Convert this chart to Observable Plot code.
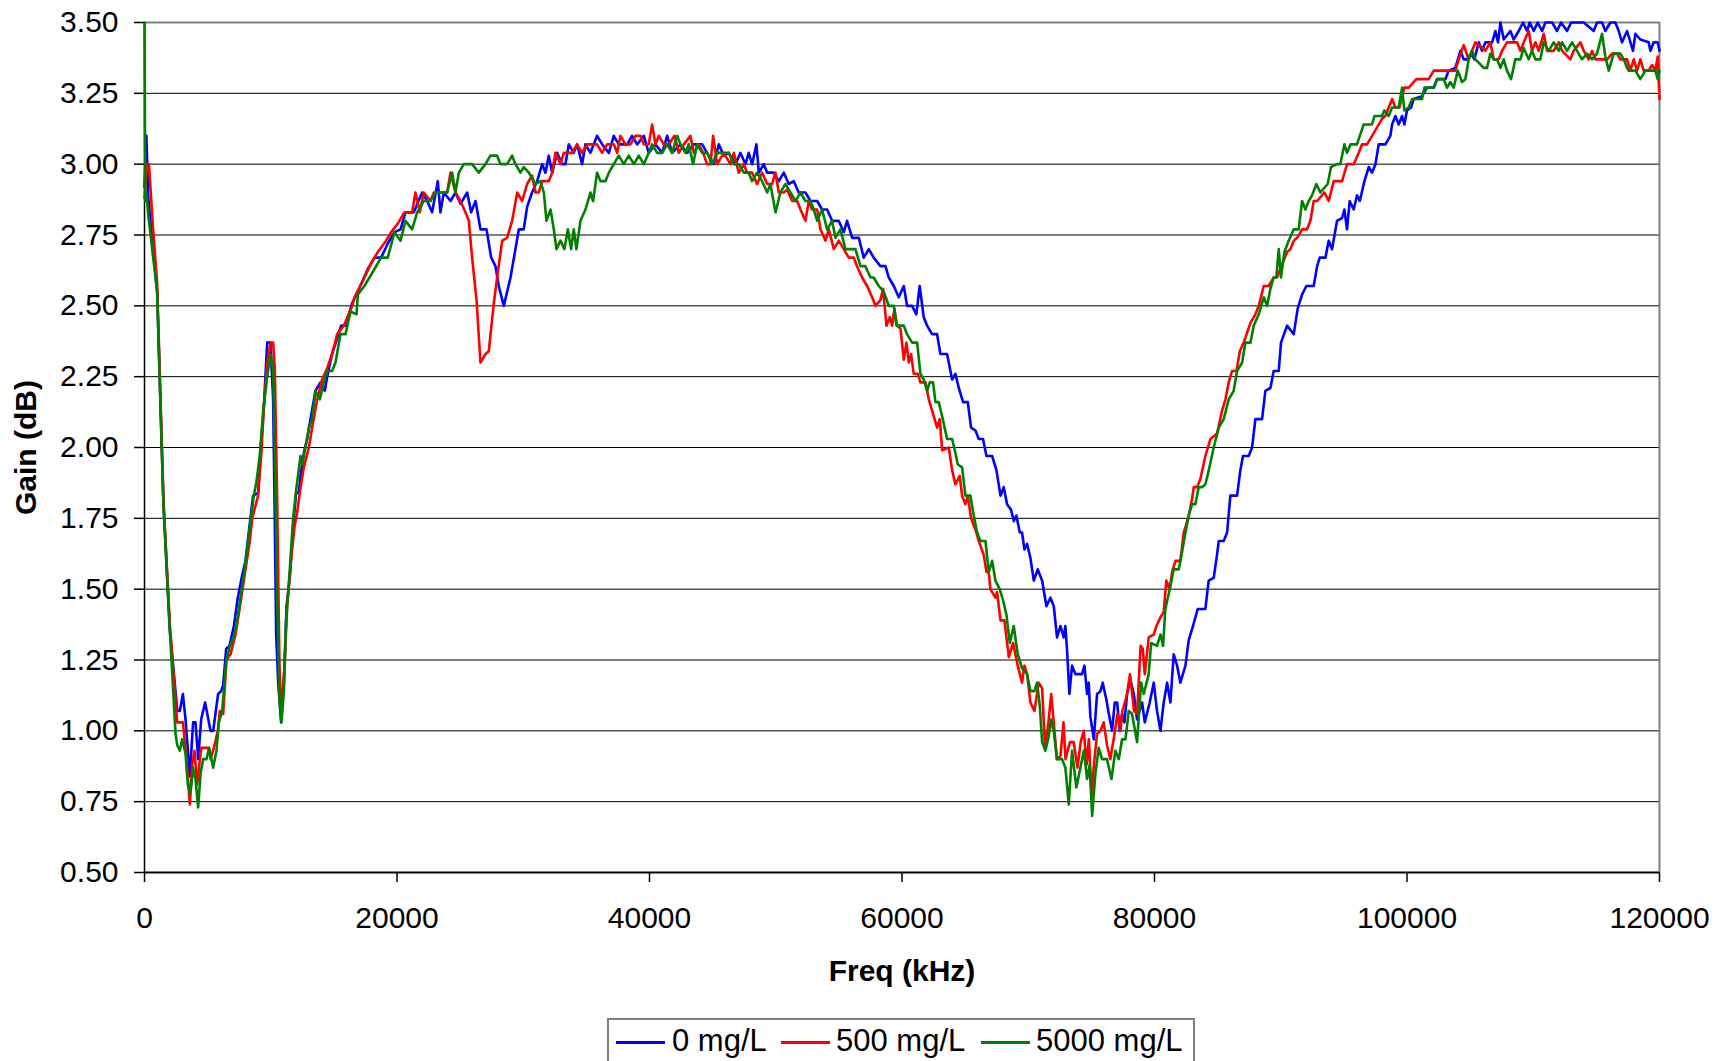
<!DOCTYPE html>
<html><head><meta charset="utf-8">
<script src="https://cdn.jsdelivr.net/npm/d3@7"></script>
<script src="https://cdn.jsdelivr.net/npm/@observablehq/plot@0.6"></script>
<style>
html,body{margin:0;padding:0;background:#fff;overflow:hidden;}
#wrap{position:relative;width:1719px;height:1061px;}
#legend{position:absolute;left:607px;top:1018px;width:588px;height:60px;border:2px solid #808080;box-sizing:border-box;background:#fff;font-family:"Liberation Sans",Arial,sans-serif;font-size:31px;color:#000;}
.sw{position:absolute;top:21px;width:49px;height:3px;}
.lb{position:absolute;top:4px;white-space:nowrap;line-height:34px;}
</style></head>
<body><div id="wrap"><div id="chart"></div><div id="legend"></div></div>
<script>
// Tick values
const xTicks = [0, 20000, 40000, 60000, 80000, 100000, 120000];
const yTicks = [0.5, 0.75, 1.0, 1.25, 1.5, 1.75, 2.0, 2.25, 2.5, 2.75, 3.0, 3.25, 3.5];
const seriesNames = ["0 mg/L", "500 mg/L", "5000 mg/L"];
const seriesColors = ["#0000ff", "#ff0000", "#008000"];

// [Freq (kHz), Gain (dB)]
const blue = [[0,2.92],[150,3.10],[300,2.88],[1000,2.55],[1500,1.80],[2000,1.36],[2600,1.07],[2800,1.07],[3040,1.13],[3250,1.04],[3590,0.84],[3850,1.03],[4040,1.03],[4250,0.90],[4490,1.04],[4800,1.10],[5230,1.00],[5440,1.00],[5830,1.13],[6070,1.14],[6230,1.16],[6470,1.29],[6730,1.30],[7080,1.37],[7390,1.47],[7740,1.55],[8000,1.60],[8180,1.67],[8600,1.83],[9000,1.84],[9190,1.99],[9450,2.14],[9720,2.37],[9980,2.37],[10190,2.17],[10300,1.81],[10430,1.34],[10590,1.17],[10820,1.03],[11040,1.17],[11250,1.44],[11510,1.54],[11830,1.75],[12010,1.84],[12220,1.84],[12360,1.90],[12620,1.98],[12880,2.03],[13150,2.10],[13540,2.20],[13940,2.23],[14280,2.20],[14470,2.25],[14860,2.33],[15580,2.43],[15920,2.43],[16450,2.51],[16900,2.55],[17690,2.63],[18220,2.67],[18740,2.67],[19270,2.72],[19800,2.76],[20280,2.77],[20670,2.83],[21330,2.83],[21990,2.90],[22390,2.87],[22780,2.83],[23230,2.94],[23440,2.83],[23710,2.90],[24240,2.87],[24630,2.90],[25030,2.86],[25560,2.90],[25870,2.83],[26220,2.87],[26610,2.77],[27090,2.77],[27460,2.67],[27800,2.64],[28060,2.57],[28460,2.50],[28990,2.60],[29380,2.70],[29650,2.77],[30040,2.77],[30310,2.85],[30700,2.90],[31100,2.94],[31500,3.00],[31760,2.97],[32020,3.03],[32290,2.97],[32680,3.04],[33080,3.00],[33340,3.00],[33610,3.07],[34000,3.04],[34270,3.07],[34660,3.00],[34930,3.07],[35320,3.04],[35850,3.10],[36250,3.07],[36780,3.04],[37170,3.10],[37570,3.07],[38230,3.07],[38620,3.10],[39020,3.07],[39550,3.10],[39940,3.04],[40470,3.07],[41000,3.04],[41400,3.10],[41790,3.04],[42450,3.07],[42980,3.04],[43510,3.07],[44170,3.07],[44560,3.04],[45090,3.00],[45490,3.07],[45880,3.03],[46280,3.04],[46810,3.00],[47200,3.04],[47600,3.00],[47860,3.04],[48130,3.00],[48470,3.07],[48660,2.97],[49050,3.00],[49320,2.97],[49840,2.97],[50240,2.94],[50640,2.97],[51030,2.93],[51430,2.94],[51820,2.90],[52350,2.90],[52750,2.87],[53280,2.87],[53670,2.84],[54070,2.84],[54460,2.80],[54990,2.80],[55390,2.76],[55650,2.80],[56050,2.74],[56580,2.74],[56970,2.67],[57370,2.70],[57760,2.67],[58290,2.64],[58690,2.64],[58950,2.60],[59350,2.57],[59740,2.53],[60140,2.57],[60400,2.50],[60800,2.50],[61140,2.47],[61400,2.57],[61720,2.46],[61990,2.43],[62380,2.40],[62780,2.40],[63040,2.33],[63570,2.33],[63970,2.24],[64230,2.26],[64500,2.21],[64840,2.16],[65210,2.16],[65470,2.07],[65820,2.06],[66080,2.03],[66420,2.03],[66690,1.97],[67140,1.97],[67480,1.92],[67800,1.83],[68060,1.86],[68320,1.80],[68640,1.78],[68850,1.74],[69060,1.76],[69330,1.70],[69510,1.70],[69700,1.64],[69910,1.66],[70170,1.61],[70440,1.53],[70750,1.57],[71100,1.53],[71440,1.44],[71760,1.47],[72020,1.44],[72280,1.33],[72550,1.37],[72810,1.33],[72940,1.37],[73080,1.28],[73260,1.13],[73470,1.23],[73740,1.20],[74260,1.20],[74450,1.23],[74660,1.13],[74790,1.17],[74920,1.05],[75190,0.97],[75450,1.13],[75720,1.14],[75900,1.17],[76190,1.11],[76380,1.06],[76640,1.00],[76850,1.10],[77040,1.10],[77250,1.00],[77430,1.06],[77620,1.03],[77830,1.13],[78090,1.18],[78360,1.13],[78620,1.04],[79020,1.10],[79230,1.03],[79620,1.10],[79940,1.17],[80200,1.07],[80470,1.00],[80730,1.10],[81000,1.17],[81260,1.10],[81520,1.27],[81790,1.23],[82050,1.17],[82450,1.23],[82710,1.32],[83050,1.37],[83420,1.43],[84030,1.43],[84290,1.53],[84690,1.54],[84950,1.62],[85090,1.67],[85480,1.67],[85750,1.70],[86010,1.83],[86540,1.83],[86800,1.92],[87010,1.97],[87460,1.97],[87730,2.00],[87990,2.10],[88520,2.10],[88780,2.20],[89180,2.21],[89440,2.27],[89840,2.27],[90020,2.37],[90500,2.43],[91030,2.40],[91340,2.49],[91690,2.54],[92030,2.57],[92610,2.57],[92880,2.64],[93090,2.67],[93540,2.67],[93800,2.73],[94060,2.70],[94460,2.80],[94860,2.81],[95040,2.84],[95250,2.77],[95460,2.87],[95780,2.84],[96040,2.89],[96260,2.87],[96630,2.94],[96970,2.99],[97230,2.97],[97500,3.00],[97760,3.07],[98290,3.07],[98680,3.10],[98820,3.14],[99080,3.17],[99340,3.14],[99610,3.17],[99790,3.14],[100000,3.19],[100320,3.20],[100530,3.23],[101190,3.24],[101590,3.27],[102120,3.27],[102380,3.30],[103040,3.30],[103300,3.33],[103830,3.34],[104230,3.40],[104490,3.37],[104760,3.37],[105070,3.39],[105340,3.37],[105680,3.43],[105940,3.40],[106210,3.43],[106740,3.43],[107000,3.47],[107210,3.43],[107400,3.50],[107660,3.44],[108190,3.47],[108450,3.44],[108850,3.47],[109190,3.50],[109510,3.47],[109720,3.50],[110040,3.47],[110350,3.50],[110700,3.47],[110960,3.50],[111500,3.50],[111880,3.47],[112200,3.50],[112680,3.47],[113000,3.50],[114000,3.50],[114790,3.47],[115050,3.50],[115450,3.50],[115710,3.47],[116110,3.50],[116500,3.50],[116770,3.47],[117030,3.43],[117430,3.47],[117900,3.40],[118090,3.46],[118480,3.44],[119140,3.43],[119280,3.40],[119540,3.43],[119860,3.43],[120000,3.40]];

const red = [[0,2.88],[200,3.00],[350,3.00],[700,2.76],[1000,2.58],[1500,1.82],[2000,1.38],[2590,1.03],[3040,1.03],[3330,0.90],[3590,0.74],[3780,0.88],[3960,0.93],[4170,0.81],[4490,0.94],[5100,0.94],[5230,0.90],[5490,0.94],[5810,1.00],[5970,1.07],[6230,1.06],[6490,1.25],[6810,1.27],[7210,1.34],[7600,1.45],[8000,1.57],[8340,1.67],[8530,1.75],[9000,1.83],[9270,1.99],[9450,2.14],[9720,2.30],[9980,2.37],[10190,2.37],[10320,2.28],[10510,1.81],[10690,1.23],[10850,1.06],[11090,1.23],[11300,1.44],[11560,1.58],[11880,1.72],[12090,1.77],[12360,1.86],[12620,1.93],[13020,2.00],[13280,2.07],[13680,2.17],[14070,2.24],[14470,2.28],[14860,2.33],[15260,2.40],[15790,2.43],[16450,2.50],[16630,2.53],[17420,2.60],[17950,2.65],[18480,2.69],[19140,2.73],[19540,2.76],[20060,2.79],[20590,2.83],[21200,2.83],[21460,2.90],[21810,2.83],[22120,2.90],[22650,2.87],[22920,2.90],[23970,2.90],[24240,2.97],[24630,2.90],[25030,2.87],[25420,2.83],[25690,2.80],[25950,2.67],[26300,2.52],[26610,2.30],[27010,2.33],[27270,2.34],[27670,2.51],[27930,2.60],[28330,2.73],[28720,2.74],[29120,2.80],[29520,2.90],[29910,2.87],[30310,2.93],[30700,2.96],[30970,2.90],[31230,2.90],[31500,2.94],[32020,2.94],[32290,2.97],[32550,3.04],[32950,3.00],[33210,3.04],[33870,3.04],[34270,3.07],[34660,3.04],[35060,3.07],[35850,3.07],[36250,3.04],[36640,3.07],[37170,3.07],[37440,3.04],[37700,3.10],[38100,3.07],[38490,3.07],[38890,3.10],[39280,3.10],[39550,3.07],[39940,3.07],[40210,3.14],[40470,3.07],[40740,3.10],[41130,3.07],[41530,3.07],[41980,3.10],[42320,3.04],[42720,3.07],[43240,3.10],[43510,3.04],[43900,3.07],[44250,3.04],[44560,3.00],[44830,3.00],[45040,3.10],[45360,3.00],[45880,3.04],[46410,3.00],[46680,3.04],[47070,2.97],[47470,3.00],[47730,2.97],[48130,2.97],[48520,2.93],[48920,2.97],[49320,2.93],[49710,2.93],[49980,2.97],[50240,2.90],[50640,2.90],[50900,2.91],[51300,2.87],[51690,2.87],[51960,2.84],[52350,2.80],[52620,2.87],[52880,2.84],[53280,2.84],[53540,2.77],[53940,2.73],[54200,2.77],[54600,2.70],[54990,2.73],[55390,2.70],[55780,2.67],[56180,2.67],[56440,2.64],[56840,2.60],[57240,2.57],[57630,2.53],[57900,2.50],[58290,2.52],[58500,2.56],[58770,2.43],[59030,2.46],[59220,2.43],[59400,2.49],[59610,2.43],[59880,2.42],[60140,2.31],[60350,2.37],[60540,2.30],[60720,2.33],[60930,2.26],[61250,2.26],[61460,2.23],[61860,2.23],[62120,2.17],[62520,2.11],[62780,2.07],[62990,2.10],[63180,1.99],[63700,2.00],[63970,1.92],[64230,1.87],[64570,1.90],[64760,1.83],[65020,1.80],[65210,1.83],[65470,1.75],[65820,1.71],[66080,1.67],[66480,1.62],[66690,1.56],[66870,1.56],[67000,1.50],[67400,1.47],[67530,1.49],[67800,1.39],[68110,1.39],[68460,1.26],[68800,1.31],[69170,1.23],[69510,1.17],[69700,1.23],[69910,1.20],[70170,1.10],[70490,1.07],[70830,1.17],[71100,1.15],[71330,0.94],[71600,1.03],[71820,1.13],[72040,1.02],[72260,0.90],[72550,0.91],[72790,1.03],[72950,0.90],[73300,0.96],[73600,0.96],[73900,0.87],[74150,0.96],[74400,1.00],[74620,0.88],[74800,0.97],[75010,0.77],[75200,0.88],[75450,0.99],[75720,1.00],[75980,1.03],[76240,0.95],[76500,0.90],[76800,0.98],[77060,1.06],[77300,1.00],[77450,1.07],[77780,1.12],[78060,1.20],[78380,1.07],[78620,1.06],[78900,1.30],[79070,1.29],[79230,1.20],[79540,1.33],[79940,1.34],[80150,1.37],[80470,1.40],[80730,1.42],[80940,1.53],[81210,1.50],[81390,1.56],[81660,1.60],[82050,1.60],[82320,1.70],[82530,1.73],[82710,1.76],[82980,1.82],[83110,1.86],[83370,1.86],[83640,1.89],[84030,1.97],[84430,2.03],[84700,2.04],[84960,2.05],[85350,2.13],[85620,2.17],[85880,2.23],[86140,2.27],[86490,2.27],[86760,2.34],[87070,2.37],[87600,2.44],[87990,2.47],[88260,2.50],[88650,2.57],[89050,2.57],[89440,2.60],[89700,2.60],[89970,2.63],[90500,2.69],[90760,2.70],[91030,2.73],[91290,2.74],[91690,2.77],[92080,2.77],[92350,2.80],[92610,2.87],[92880,2.87],[93460,2.90],[93800,2.87],[94200,2.94],[94860,2.94],[95250,3.00],[95780,3.00],[96180,3.04],[96440,3.07],[96840,3.07],[97230,3.10],[97630,3.13],[98020,3.16],[98290,3.17],[98820,3.23],[99080,3.20],[99400,3.20],[99790,3.27],[100140,3.27],[100740,3.30],[101720,3.30],[102120,3.33],[102640,3.33],[103830,3.33],[104100,3.37],[104490,3.42],[104890,3.37],[105150,3.40],[105420,3.43],[106200,3.40],[106600,3.43],[106870,3.37],[107260,3.37],[107530,3.40],[107920,3.43],[108720,3.43],[108980,3.40],[109250,3.43],[109640,3.47],[109900,3.40],[110170,3.43],[110430,3.40],[110830,3.46],[111100,3.40],[111620,3.40],[112020,3.43],[112280,3.40],[112940,3.37],[113200,3.40],[113730,3.43],[114000,3.40],[114390,3.37],[114660,3.40],[114920,3.37],[115320,3.37],[115850,3.37],[116240,3.39],[116640,3.39],[116900,3.37],[117430,3.37],[117690,3.33],[117960,3.37],[118220,3.33],[118480,3.37],[118750,3.33],[119140,3.33],[119410,3.35],[119670,3.33],[119860,3.38],[120000,3.23]];

const green = [[0,3.50],[60,2.87],[150,2.90],[300,2.82],[1000,2.55],[1500,1.80],[2000,1.36],[2460,0.99],[2590,0.95],[2800,0.93],[2980,0.97],[3250,0.92],[3430,0.81],[3640,0.78],[3850,0.87],[4040,0.83],[4250,0.73],[4440,0.85],[4650,0.90],[4910,0.90],[5120,0.94],[5440,0.87],[5700,0.93],[5890,1.03],[6150,1.07],[6490,1.25],[6760,1.30],[7080,1.33],[7340,1.39],[7740,1.51],[8000,1.59],[8290,1.70],[8660,1.83],[8870,1.88],[9130,1.97],[9400,2.13],[9720,2.25],[9980,2.33],[10190,2.28],[10320,1.99],[10510,1.46],[10690,1.11],[10850,1.03],[11040,1.14],[11220,1.39],[11480,1.55],[11770,1.75],[12040,1.86],[12360,1.97],[12490,1.94],[12750,2.00],[13020,2.07],[13280,2.10],[13540,2.20],[13890,2.17],[14200,2.23],[14470,2.27],[14860,2.27],[15130,2.30],[15520,2.40],[15920,2.40],[16320,2.48],[16790,2.47],[16900,2.54],[17420,2.57],[18220,2.63],[18740,2.67],[19270,2.67],[19800,2.76],[20280,2.73],[20670,2.80],[21200,2.77],[21600,2.83],[22120,2.87],[22650,2.87],[23050,2.90],[23970,2.90],[24370,2.97],[24630,2.90],[24900,2.97],[25290,3.00],[25950,3.00],[26480,2.97],[27010,3.00],[27400,3.03],[27930,3.03],[28200,3.00],[28720,3.00],[29120,3.03],[29380,3.00],[29780,2.97],[30040,2.99],[30440,2.97],[30700,2.95],[30970,2.93],[31360,2.94],[31630,2.90],[31840,2.80],[32160,2.84],[32420,2.77],[32630,2.70],[32950,2.73],[33260,2.70],[33530,2.77],[33790,2.70],[34000,2.77],[34210,2.70],[34530,2.80],[34930,2.84],[35320,2.90],[35530,2.87],[35850,2.97],[36120,2.94],[36510,2.94],[36780,2.97],[37170,3.00],[37570,3.03],[37960,3.00],[38360,3.03],[38760,3.00],[39150,3.03],[39550,3.00],[39940,3.04],[40210,3.07],[40600,3.04],[41000,3.04],[41400,3.07],[41790,3.04],[42190,3.10],[42450,3.07],[42850,3.04],[43110,3.07],[43450,3.00],[43770,3.07],[44170,3.04],[44560,3.04],[44960,3.00],[45360,3.04],[46280,3.04],[46680,3.00],[47070,3.00],[47470,2.97],[47860,2.97],[48130,2.94],[48520,2.97],[48920,2.94],[49320,2.90],[49580,2.93],[49980,2.83],[50370,2.90],[50770,2.93],[51160,2.90],[51560,2.87],[51960,2.90],[52350,2.87],[52750,2.87],[53010,2.84],[53280,2.80],[53670,2.84],[54070,2.77],[54460,2.80],[54730,2.74],[55120,2.77],[55520,2.70],[55920,2.70],[56310,2.70],[56710,2.64],[57100,2.64],[57500,2.60],[57760,2.60],[58160,2.57],[58560,2.55],[58950,2.50],[59350,2.50],[59560,2.43],[60140,2.43],[60400,2.40],[60800,2.37],[61200,2.37],[61460,2.26],[61720,2.24],[61990,2.20],[62200,2.23],[62460,2.23],[62650,2.16],[62910,2.16],[63180,2.11],[63570,2.03],[63970,2.03],[64230,1.98],[64420,1.94],[64760,1.93],[65020,1.83],[65420,1.83],[65680,1.76],[65950,1.70],[66210,1.67],[66610,1.67],[66870,1.56],[67140,1.60],[67400,1.53],[67740,1.50],[68010,1.46],[68270,1.41],[68540,1.31],[68850,1.37],[69170,1.27],[69510,1.22],[69910,1.20],[70170,1.14],[70490,1.14],[70700,1.17],[70910,1.09],[71100,0.96],[71360,0.93],[71620,0.98],[71810,1.04],[72020,1.00],[72280,0.90],[72680,0.90],[72940,0.87],[73210,0.74],[73470,0.93],[73810,0.80],[74130,0.87],[74400,0.93],[74660,0.83],[74870,0.88],[75060,0.70],[75320,0.85],[75580,0.94],[75850,0.90],[76240,0.90],[76590,0.83],[76900,0.93],[77170,0.90],[77430,0.97],[77700,0.97],[77960,1.07],[78220,1.06],[78620,0.96],[78940,1.17],[79150,1.13],[79540,1.20],[79730,1.31],[80200,1.30],[80470,1.34],[80680,1.30],[80860,1.43],[81210,1.50],[81520,1.57],[81920,1.57],[82180,1.63],[82450,1.70],[82710,1.76],[82980,1.80],[83240,1.80],[83500,1.86],[83770,1.86],[84030,1.87],[84300,1.92],[84690,2.00],[85090,2.07],[85480,2.10],[85880,2.17],[86270,2.20],[86540,2.27],[86940,2.30],[87200,2.37],[87600,2.37],[87860,2.43],[88260,2.47],[88650,2.53],[88920,2.50],[89180,2.56],[89440,2.60],[89650,2.60],[89840,2.70],[90020,2.60],[90290,2.69],[90630,2.73],[91030,2.77],[91420,2.77],[91690,2.87],[91950,2.84],[92220,2.87],[92480,2.89],[92820,2.93],[93140,2.90],[93720,2.93],[93980,2.99],[94460,3.00],[94720,3.00],[95040,3.07],[95250,3.04],[95520,3.07],[96040,3.07],[96260,3.10],[96570,3.14],[97230,3.14],[97420,3.17],[98020,3.17],[98210,3.19],[98550,3.17],[98820,3.20],[99340,3.20],[99610,3.27],[99790,3.19],[100130,3.20],[100400,3.23],[101190,3.23],[101380,3.27],[102120,3.27],[102380,3.30],[102910,3.30],[103170,3.27],[103430,3.29],[103700,3.27],[104020,3.33],[104360,3.29],[104620,3.30],[104890,3.37],[105150,3.40],[105420,3.37],[106080,3.34],[106340,3.34],[106600,3.39],[106870,3.37],[107130,3.37],[107400,3.34],[107660,3.37],[107920,3.33],[108240,3.30],[108580,3.37],[108980,3.37],[109240,3.41],[109640,3.37],[109900,3.40],[110170,3.37],[110560,3.37],[110830,3.43],[111220,3.40],[111620,3.43],[112020,3.40],[112280,3.43],[112680,3.40],[113080,3.43],[113470,3.40],[113860,3.37],[114260,3.39],[114660,3.37],[115050,3.39],[115450,3.46],[115710,3.38],[115980,3.33],[116370,3.39],[116900,3.39],[117170,3.37],[117430,3.34],[117560,3.33],[118090,3.33],[118480,3.30],[118880,3.33],[119270,3.33],[119670,3.33],[119860,3.30],[120000,3.33]];

const seriesPts = [blue, red, green];
const rows = seriesPts.flatMap((pts, i) => pts.map(([f, g]) => ({f, g, s: seriesNames[i]})));

const font = '"Liberation Sans", Arial, Helvetica, sans-serif';

const chart = Plot.plot({
  width: 1719,
  height: 1010,
  marginLeft: 144,
  marginRight: 60,
  marginTop: 22,
  marginBottom: 138,
  style: {fontFamily: font, fontSize: "30px", background: "#fff", color: "#000", overflow: "visible"},
  x: {domain: [0, 120000]},
  y: {domain: [0.5, 3.5]},
  color: {domain: seriesNames, range: seriesColors},
  marks: [
    Plot.ruleY(yTicks.filter(d => d > 0.5 && d < 3.5), {stroke: "#000", strokeWidth: 1}),
    Plot.ruleY([3.5], {stroke: "#808080", strokeWidth: 2}),
    Plot.ruleX([120000], {stroke: "#808080", strokeWidth: 2}),
    Plot.axisY(yTicks, {tickSize: 10, tickPadding: 16, tickFormat: d3.format(".2f"), label: null, fontSize: 30, strokeWidth: 1.5}),
    Plot.axisX(xTicks, {tickSize: 10, tickPadding: 24, tickFormat: d => String(d), label: null, fontSize: 30, strokeWidth: 1.5}),
    Plot.ruleX([0], {stroke: "#000", strokeWidth: 1.5}),
    Plot.ruleY([0.5], {stroke: "#000", strokeWidth: 2}),
    Plot.line(rows, {x: "f", y: "g", z: "s", stroke: "s", strokeWidth: 2.6}),
    Plot.text(["Freq (kHz)"], {text: d => d, frameAnchor: "bottom", textAnchor: "middle", lineAnchor: "middle", dy: 99, fontSize: 30, fontWeight: "bold", fill: "#000"}),
    Plot.text(["Gain (dB)"], {text: d => d, frameAnchor: "left", textAnchor: "middle", lineAnchor: "middle", dx: -118, rotate: -90, fontSize: 30, fontWeight: "bold", fill: "#000"})
  ]
});
document.getElementById("chart").appendChild(chart);

// Legend
const legend = document.getElementById("legend");
const swLeft = [7, 172, 372];
const lbLeft = [63, 227, 427];
seriesNames.forEach((name, i) => {
  const sw = document.createElement("div");
  sw.className = "sw";
  sw.style.left = swLeft[i] + "px";
  sw.style.background = seriesColors[i];
  legend.appendChild(sw);
  const lb = document.createElement("div");
  lb.className = "lb";
  lb.style.left = lbLeft[i] + "px";
  lb.textContent = name;
  legend.appendChild(lb);
});
</script></body></html>
